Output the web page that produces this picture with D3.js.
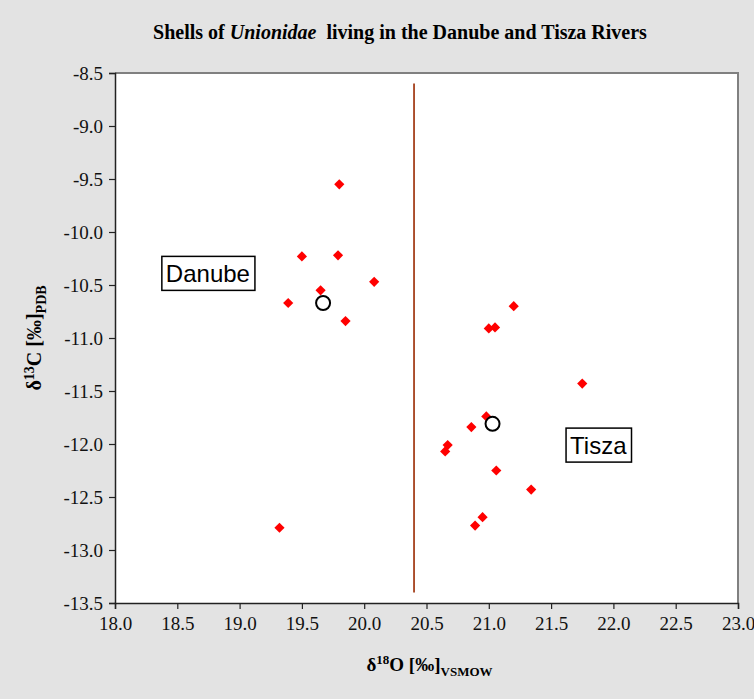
<!DOCTYPE html>
<html>
<head>
<meta charset="utf-8">
<script src="https://cdn.jsdelivr.net/npm/d3@7"></script>
<style>
  html, body { margin: 0; padding: 0; background: #e3e3e3; }
  svg { display: block; }
</style>
</head>
<body>
<svg id="chart" width="754" height="699"></svg>
<script>
// Stable isotope values (δ18O, δ13C) of individual shells
const danubeO = [19.80, 19.50, 19.79, 20.08, 19.65, 19.39, 19.85, 19.32];
const danubeC = [-9.55, -10.23, -10.22, -10.47, -10.55, -10.67, -10.84, -12.79];
const tiszaO = [21.20, 21.00, 21.05, 21.75, 20.98, 20.86, 20.67, 20.65, 21.06, 21.34, 20.95, 20.89];
const tiszaC = [-10.70, -10.91, -10.90, -11.43, -11.74, -11.84, -12.01, -12.07, -12.25, -12.43, -12.69, -12.77];
// Group means
const meanO = [19.67, 21.03];
const meanC = [-10.67, -11.81];
// Divider between the two rivers
const dividerO = 20.4;
const dividerC = [-8.6, -13.4];
// Axis ticks
const xTicks = [18.0, 18.5, 19.0, 19.5, 20.0, 20.5, 21.0, 21.5, 22.0, 22.5, 23.0];
const yTicks = [-8.5, -9.0, -9.5, -10.0, -10.5, -11.0, -11.5, -12.0, -12.5, -13.0, -13.5];
// River labels: text, anchor (left δ18O, top δ13C)
const riverNames = ["Danube", "Tisza"];
const riverLabelO = [18.376, 21.62];
const riverLabelC = [-10.23, -11.85];

const svg = d3.select("#chart");
const margin = { left: 115, right: 16, top: 73, bottom: 96 };
const W = 754, H = 699;

const x = d3.scaleLinear().domain([18, 23]).range([margin.left, W - margin.right]);
const y = d3.scaleLinear().domain([-13.5, -8.5]).range([H - margin.bottom, margin.top]);

const serif = "Liberation Serif, Times New Roman, serif";
const sans = "Liberation Sans, Arial, sans-serif";
const fmt = d => d3.format(".1f")(d).replace("\u2212", "-");

// Plot area
svg.append("rect")
  .attr("x", x(18)).attr("y", y(-8.5))
  .attr("width", x(23) - x(18)).attr("height", y(-13.5) - y(-8.5))
  .attr("fill", "#ffffff");

// Grey frame on top and right
svg.append("path")
  .attr("d", `M${x(18)},${y(-8.5)}H${x(23)}V${y(-13.5)}`)
  .attr("fill", "none").attr("stroke", "#808080").attr("stroke-width", 2);

// Axes
const xAxis = d3.axisBottom(x).tickValues(xTicks).tickFormat(fmt).tickSize(6).tickPadding(8);
const yAxis = d3.axisLeft(y).tickValues(yTicks).tickFormat(fmt).tickSize(6).tickPadding(6);

const gx = svg.append("g").attr("transform", `translate(0,${y(-13.5)})`).call(xAxis);
const gy = svg.append("g").attr("transform", `translate(${x(18)},0)`).call(yAxis);
[gx, gy].forEach(g => {
  g.attr("font-family", serif).attr("font-size", 19);
  g.select(".domain").attr("stroke", "#222").attr("stroke-width", 1.5);
  g.selectAll(".tick line").attr("stroke", "#222").attr("stroke-width", 1.2);
  g.selectAll(".tick text").attr("fill", "#111")
    .attr("font-family", serif).attr("font-size", 19);
});

// Divider line
svg.append("line")
  .attr("x1", x(dividerO)).attr("x2", x(dividerO))
  .attr("y1", y(dividerC[0])).attr("y2", y(dividerC[1]))
  .attr("stroke", "#a5401c").attr("stroke-width", 1.8);

// Shell points
const diamond = d3.symbol().type(d3.symbolSquare).size(52);
const pts = danubeO.map((o, i) => [o, danubeC[i]])
  .concat(tiszaO.map((o, i) => [o, tiszaC[i]]));
svg.append("g").selectAll("path").data(pts).join("path")
  .attr("d", diamond)
  .attr("transform", d => `translate(${x(d[0])},${y(d[1])}) rotate(45)`)
  .attr("fill", "#ff0000");

// Means
svg.append("g").selectAll("circle").data(meanO.map((o, i) => [o, meanC[i]])).join("circle")
  .attr("cx", d => x(d[0])).attr("cy", d => y(d[1])).attr("r", 7)
  .attr("fill", "#ffffff").attr("stroke", "#000").attr("stroke-width", 2);

// River labels in boxes
riverNames.forEach((name, i) => {
  const g = svg.append("g").attr("transform", `translate(${x(riverLabelO[i])},${y(riverLabelC[i])})`);
  const t = g.append("text")
    .attr("x", 4).attr("y", 26)
    .attr("font-family", sans).attr("font-size", 24).attr("fill", "#000")
    .text(name);
  const w = t.node().getComputedTextLength();
  g.insert("rect", "text")
    .attr("x", 0).attr("y", 0).attr("width", w + 9).attr("height", 34)
    .attr("fill", "#fff").attr("stroke", "#000").attr("stroke-width", 1.5);
});

// Title
const title = svg.append("text")
  .attr("x", 400).attr("y", 39)
  .attr("text-anchor", "middle")
  .attr("font-family", serif).attr("font-size", 20).attr("font-weight", "bold")
  .attr("fill", "#000");
title.append("tspan").text("Shells of ");
title.append("tspan").attr("font-style", "italic").text("Unionidae");
title.append("tspan").text("\u00a0 living in the Danube and Tisza Rivers");

// X axis title
const xt = svg.append("text")
  .attr("x", (x(18) + x(23)) / 2 + 3).attr("y", 671)
  .attr("text-anchor", "middle")
  .attr("font-family", serif).attr("font-size", 19).attr("font-weight", "bold")
  .attr("fill", "#000");
xt.append("tspan").text("δ");
xt.append("tspan").attr("dy", -7).attr("font-size", 13).text("18");
xt.append("tspan").attr("dy", 7).text("O [‰]");
xt.append("tspan").attr("dy", 5).attr("font-size", 13).text("VSMOW");

// Y axis title
const yt = svg.append("text")
  .attr("transform", `translate(41,${(y(-8.5) + y(-13.5)) / 2}) rotate(-90)`)
  .attr("text-anchor", "middle")
  .attr("font-family", serif).attr("font-size", 20).attr("font-weight", "bold")
  .attr("fill", "#000");
yt.append("tspan").text("δ");
yt.append("tspan").attr("dy", -7).attr("font-size", 14).text("13");
yt.append("tspan").attr("dy", 7).text("C [‰]");
yt.append("tspan").attr("dy", 5).attr("font-size", 14).text("PDB");
</script>
</body>
</html>
